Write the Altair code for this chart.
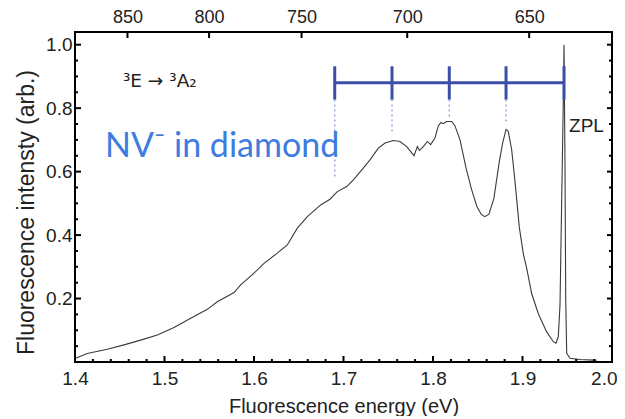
import altair as alt
import pandas as pd

# ---- spectrum ----
energy = [1.4008, 1.4137, 1.4361, 1.4547, 1.4734, 1.4920, 1.5106, 1.5293, 1.5479, 1.5590,
          1.5777, 1.5851, 1.6000, 1.6112, 1.6260, 1.6372, 1.6484, 1.6596, 1.6745, 1.6849,
          1.6931, 1.7036, 1.7110, 1.7221, 1.7296, 1.7389, 1.7464, 1.7557, 1.7631, 1.7706,
          1.7780, 1.7788, 1.7825, 1.7848, 1.7892, 1.7937, 1.7974, 1.8022, 1.8059, 1.8089,
          1.8115, 1.8153, 1.8209, 1.8246, 1.8302, 1.8370, 1.8430, 1.8490, 1.8540, 1.8578,
          1.8625, 1.8680, 1.8740, 1.8778, 1.8816, 1.8841, 1.8879, 1.8916, 1.8964, 1.9010,
          1.9047, 1.9103, 1.9177, 1.9270, 1.9344, 1.9374, 1.9400, 1.9419, 1.9438, 1.9456,
          1.9464, 1.9475, 1.9483, 1.9494, 1.9531, 1.9642, 1.9791, 1.9830]
intensity = [0.012, 0.027, 0.040, 0.054, 0.069, 0.085, 0.109, 0.138, 0.166, 0.190,
             0.219, 0.243, 0.280, 0.311, 0.343, 0.369, 0.422, 0.458, 0.495, 0.513,
             0.537, 0.553, 0.574, 0.611, 0.637, 0.674, 0.690, 0.698, 0.695, 0.679,
             0.653, 0.650, 0.679, 0.667, 0.679, 0.695, 0.685, 0.706, 0.744, 0.755,
             0.751, 0.758, 0.758, 0.744, 0.700, 0.610, 0.545, 0.490, 0.465, 0.458,
             0.466, 0.515, 0.630, 0.690, 0.733, 0.727, 0.669, 0.570, 0.425, 0.340,
             0.295, 0.215, 0.152, 0.095, 0.064, 0.059, 0.080, 0.180, 0.511, 0.826,
             1.000, 0.616, 0.196, 0.027, 0.012, 0.008, 0.006, 0.006]

# ---- vibronic progression bracket ----
bracket_energy = [1.6902, 1.7542, 1.8182, 1.8816, 1.9464]
bracket_level = [0.880]
bracket_tick_low = [0.827]
bracket_tick_high = [0.932]
dotted_energy = [1.6902, 1.7542, 1.8182, 1.8816]
dotted_end = [0.580, 0.716, 0.770, 0.748]

# ---- axes ----
x_labels = [1.4, 1.5, 1.6, 1.7, 1.8, 1.9, 2.0]
x_minor = [1.42, 1.44, 1.46, 1.48, 1.52, 1.54, 1.56, 1.58, 1.62, 1.64, 1.66, 1.68,
           1.72, 1.74, 1.76, 1.78, 1.82, 1.84, 1.86, 1.88, 1.92, 1.94, 1.96, 1.98]
x_major = [1.5, 1.6, 1.7, 1.8, 1.9]
y_labels = [0.2, 0.4, 0.6, 0.8, 1.0]
y_minor = [0.05, 0.1, 0.15, 0.25, 0.3, 0.35, 0.45, 0.5, 0.55, 0.65, 0.7, 0.75,
           0.85, 0.9, 0.95]
y_major = [0.2, 0.4, 0.6, 0.8, 1.0]
wavelengths_nm = [850, 800, 750, 700, 650]
HC = 1239.84
top_energy = [HC / w for w in wavelengths_nm]

W, H = 537, 330
FONT = "Liberation Sans"
xs = alt.Scale(domain=[1.4, 2.0], nice=False, zero=False)
ys = alt.Scale(domain=[0.0, 1.04], nice=False, zero=False)

spec = pd.DataFrame({"E": energy, "I": intensity})

line = alt.Chart(spec).mark_line(color="#3a3a3a", strokeWidth=1.1, clip=True).encode(
    x=alt.X("E:Q", scale=xs, axis=alt.Axis(
        orient="bottom", values=x_labels, format=".1f", title="Fluorescence energy (eV)",
        ticks=False, tickSize=0, domain=False, grid=False, labelPadding=7, titlePadding=8,
        labelFontSize=19, titleFontSize=20, labelFont=FONT, titleFont=FONT,
        labelColor="#222", titleColor="#222", titleFontWeight="normal",
        labelFlush=False,
        labelAlign=alt.expr("datum.value >= 1.999 ? 'right' : 'center'"),
        labelOffset=alt.expr("datum.value >= 1.999 ? 5 : 0"))),
    y=alt.Y("I:Q", scale=ys, axis=alt.Axis(
        orient="left", values=y_labels, format=".1f", title="Fluorescence intensty (arb.)",
        ticks=False, tickSize=0, domain=False, grid=False, labelPadding=3, titlePadding=7,
        labelFontSize=19, titleFontSize=23, labelFont=FONT, titleFont=FONT,
        labelColor="#222", titleColor="#222", titleFontWeight="normal", titleY=180)),
)

top_df = pd.DataFrame({"E": top_energy})
top_ticks = alt.Chart(top_df).mark_rule(color="black", strokeWidth=2).encode(
    x=alt.X("E:Q", scale=xs, axis=alt.Axis(
        orient="top", values=top_energy, labelExpr="format(1239.84/datum.value, '.0f')",
        title=None, ticks=False, tickSize=0, domain=False, grid=False, labelPadding=6,
        labelFontSize=18, labelFont=FONT, labelColor="#222")),
    y=alt.value(0), y2=alt.value(6),
)

def xrule(vals, y0, y1, w=2):
    return alt.Chart(pd.DataFrame({"v": vals})).mark_rule(color="black", strokeWidth=w).encode(
        x=alt.X("v:Q", scale=xs, axis=None), y=alt.value(y0), y2=alt.value(y1))

def yrule(vals, x0, x1, w=2):
    return alt.Chart(pd.DataFrame({"v": vals})).mark_rule(color="black", strokeWidth=w).encode(
        y=alt.Y("v:Q", scale=ys, axis=None), x=alt.value(x0), x2=alt.value(x1))

ticks = [
    xrule(x_minor, H, H - 3),
    xrule(x_major, H, H - 6),
    yrule(y_minor, 0, 3),
    yrule(y_major, 0, 6),
    yrule(y_minor, W, W - 3),
    yrule(y_major, W, W - 5),
]

BR = "#3b4fa6"
bar_df = pd.DataFrame({"e0": [min(bracket_energy)], "e1": [max(bracket_energy)], "y": bracket_level})
bar = alt.Chart(bar_df).mark_rule(color=BR, strokeWidth=3).encode(
    x=alt.X("e0:Q", scale=xs, axis=None), x2="e1:Q", y=alt.Y("y:Q", scale=ys, axis=None))
btick_df = pd.DataFrame({"E": bracket_energy, "lo": bracket_tick_low * 5, "hi": bracket_tick_high * 5})
btick = alt.Chart(btick_df).mark_rule(color=BR, strokeWidth=3).encode(
    x=alt.X("E:Q", scale=xs, axis=None), y=alt.Y("lo:Q", scale=ys, axis=None), y2="hi:Q")
dot_df = pd.DataFrame({"E": dotted_energy, "top": bracket_tick_low * 4, "end": dotted_end})
dots = alt.Chart(dot_df).mark_rule(color="#8b9be6", strokeWidth=1.3, strokeDash=[2, 3]).encode(
    x=alt.X("E:Q", scale=xs, axis=None), y=alt.Y("top:Q", scale=ys, axis=None), y2="end:Q")

labels = pd.DataFrame({
    "E": [1.4535, 1.4335, 1.952],
    "I": [0.886, 0.647, 0.7256],
    "t": ["³E → ³A₂", "NV⁻ in diamond", "ZPL"],
})
t_trans = alt.Chart(labels.iloc[[0]]).mark_text(
    align="left", baseline="middle", fontSize=18.5, font="DejaVu Sans", color="#222").encode(
    x=alt.X("E:Q", scale=xs, axis=None), y=alt.Y("I:Q", scale=ys, axis=None), text="t:N")
t_nv = alt.Chart(labels.iloc[[1]]).mark_text(
    align="left", baseline="alphabetic", fontSize=34, font="Lato", color="#3d7ce0").encode(
    x=alt.X("E:Q", scale=xs, axis=None), y=alt.Y("I:Q", scale=ys, axis=None), text="t:N")
t_zpl = alt.Chart(labels.iloc[[2]]).mark_text(
    align="left", baseline="alphabetic", fontSize=19, font=FONT, color="#222").encode(
    x=alt.X("E:Q", scale=xs, axis=None), y=alt.Y("I:Q", scale=ys, axis=None), text="t:N")

chart = alt.layer(line, top_ticks, *ticks, dots, bar, btick, t_trans, t_nv, t_zpl).resolve_axis(
    x="independent", y="independent"
).properties(
    width=W, height=H,
    padding={"left": 67, "top": 24, "right": 5, "bottom": 54},
    autosize=alt.AutoSizeParams(type="none"),
    background="white",
).configure_view(stroke="black", strokeWidth=2)

chart.save("out.html", embed_options={"renderer": "svg", "actions": False})
